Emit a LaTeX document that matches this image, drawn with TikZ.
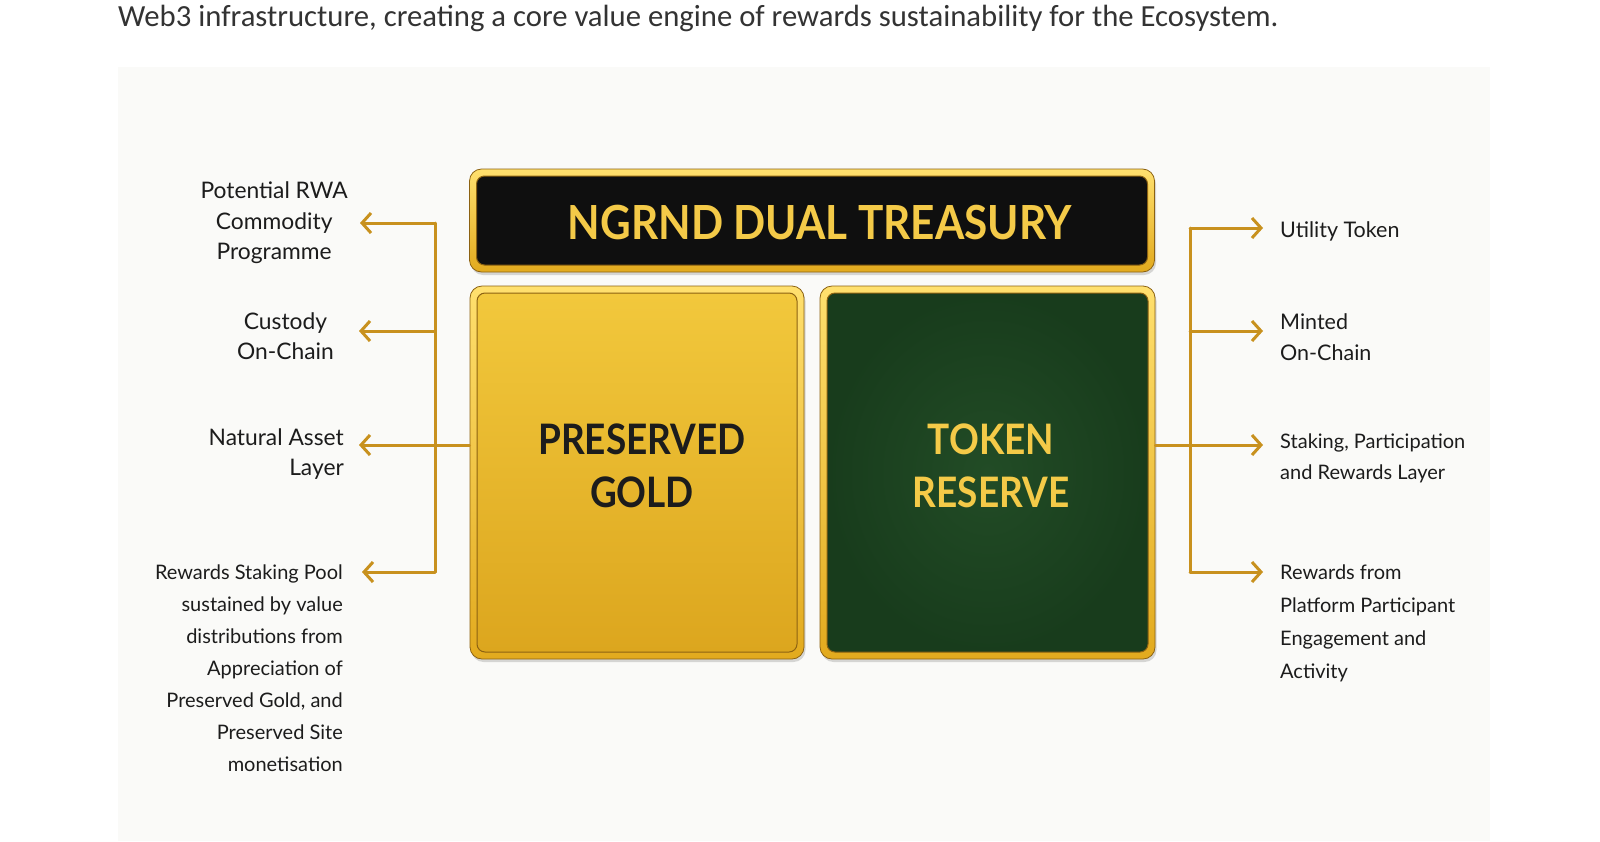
\documentclass[tikz,border=0pt]{standalone}
\usepackage{fontspec}
\setmainfont{Lato}
\newfontfamily\introfont{Carlito}
\usepackage{graphicx}
\usetikzlibrary{arrows.meta,positioning,shadows}

\definecolor{panelbg}{RGB}{250,250,248}
\definecolor{arrowgold}{RGB}{200,145,30}
\definecolor{rimgold}{RGB}{226,170,30}
\definecolor{rimlight}{RGB}{255,224,110}
\definecolor{rimdark}{RGB}{140,98,18}
\definecolor{platelight}{RGB}{242,200,60}
\definecolor{platedark}{RGB}{220,166,30}
\definecolor{feltgreen}{RGB}{34,76,38}
\definecolor{feltdark}{RGB}{24,60,28}
\definecolor{titlegold}{RGB}{244,202,72}
\definecolor{inkdark}{RGB}{28,28,28}

\newcommand\squeeze[1]{\scalebox{0.88}[1]{#1}}

\begin{document}
\begin{tikzpicture}[x=1pt,y=-1pt,
  rim/.style={rounded corners=12pt,inner sep=0pt,draw=rimdark,line width=0.8pt,
    top color=rimlight,bottom color=rimgold,
    drop shadow={opacity=0.3,shadow xshift=1.5pt,shadow yshift=-3pt}},
  plate/.style={rounded corners=8pt,inner sep=0pt,draw=rimdark,line width=1pt},
  bigtext/.style={font=\fontsize{42}{53}\selectfont\bfseries,align=center,inner sep=0pt},
  lbl/.style={font=\fontsize{20}{31}\selectfont,text=inkdark,inner ysep=0pt},
  biglbl/.style={lbl,font=\fontsize{22.8}{30.5}\selectfont},
  conn/.style={draw=arrowgold,line width=3pt,line cap=round},
  arr/.style={conn,-{Straight Barb[length=9pt,width=20pt]}}]

\useasboundingbox (0,0) rectangle (1600,841);
\fill[white] (0,0) rectangle (1600,841);
\fill[panelbg] (118,67) rectangle (1490,841);

\node[anchor=base west,inner sep=0pt,text=black!80,
  font=\introfont\fontsize{30.7}{36}\selectfont] (intro) at (118,26)
  {Web3 infrastructure, creating a core value engine of rewards sustainability for the Ecosystem.};

% treasury plates
\node[rim,minimum width=685,minimum height=103] (headrim) at (812,220.5) {};
\node[plate,fill=black!94,minimum width=671,minimum height=89] (head) at (headrim) {};
\node[font=\fontsize{47}{50}\selectfont\bfseries,text=titlegold,inner sep=0pt] (title) at (820,223)
  {\scalebox{0.9}[1]{NGRND DUAL TREASURY}};

\node[rim,minimum width=334,minimum height=373] (gold) at (637,472.5) {};
\node[plate,top color=platelight,bottom color=platedark,minimum width=320,minimum height=359] (goldin) at (gold) {};
\node[bigtext,text=inkdark] (goldtxt) at (642,466) {\squeeze{PRESERVED}\\\squeeze{GOLD}};

\node[rim,minimum width=335,minimum height=373] (green) at (987.5,472.5) {};
\node[plate,inner color=feltgreen,outer color=feltdark,minimum width=321,minimum height=359] (greenin) at (green) {};
\node[bigtext,text=titlegold] (greentxt) at (991,466) {\squeeze{TOKEN}\\\squeeze{RESERVE}};

% left side
\coordinate (lt1) at (435,223);
\coordinate (lt2) at (435,331);
\coordinate (lt3) at (435,445);
\coordinate (lt4) at (435,572);

\node[biglbl,align=center,anchor=east,inner xsep=12pt] (lab1) at (360,223) {Potential RWA\\Commodity\\Programme};
\node[biglbl,align=center,anchor=east,inner xsep=25pt] (lab2) at (359,336) {Custody\\On-Chain};
\node[biglbl,align=right,anchor=east,inner xsep=15pt] (lab3) at (359,454) {Natural Asset\\Layer};
\node[lbl,align=right,anchor=north east,inner xsep=19pt,font=\fontsize{20}{32}\selectfont] (lab4) at (362,565)
  {Rewards Staking Pool\\sustained by value\\distributions from\\Appreciation of\\Preserved Gold, and\\Preserved Site\\monetisation};

\draw[conn] (lt1) -- (lt4);
\draw[conn] (gold.west |- lt3) -- (lt3);
\draw[arr] (lt1) -- (lt1 -| lab1.east);
\draw[arr] (lt2) -- (lt2 -| lab2.east);
\draw[arr] (lt3) -- (lt3 -| lab3.east);
\draw[arr] (lt4) -- (lt4 -| lab4.east);

% right side
\coordinate (rt1) at (1190,228);
\coordinate (rt2) at (1190,331);
\coordinate (rt3) at (1190,445);
\coordinate (rt4) at (1190,572);

\node[lbl,align=left,anchor=west,inner xsep=17pt,font=\fontsize{21.5}{31}\selectfont] (rlab1) at (1263,231) {Utility Token};
\node[lbl,align=left,anchor=west,inner xsep=17pt,font=\fontsize{21.5}{31}\selectfont] (rlab2) at (1263,337) {Minted\\On-Chain};
\node[lbl,align=left,anchor=west,inner xsep=17pt] (rlab3) at (1263,458) {Staking, Participation\\and Rewards Layer};
\node[lbl,align=left,anchor=north west,inner xsep=17pt,font=\fontsize{20}{33}\selectfont] (rlab4) at (1263,565)
  {Rewards from\\Platform Participant\\Engagement and\\Activity};

\draw[conn] (rt1) -- (rt4);
\draw[conn] (green.east |- rt3) -- (rt3);
\draw[arr] (rt1) -- (rt1 -| rlab1.west);
\draw[arr] (rt2) -- (rt2 -| rlab2.west);
\draw[arr] (rt3) -- (rt3 -| rlab3.west);
\draw[arr] (rt4) -- (rt4 -| rlab4.west);
\end{tikzpicture}
\end{document}
